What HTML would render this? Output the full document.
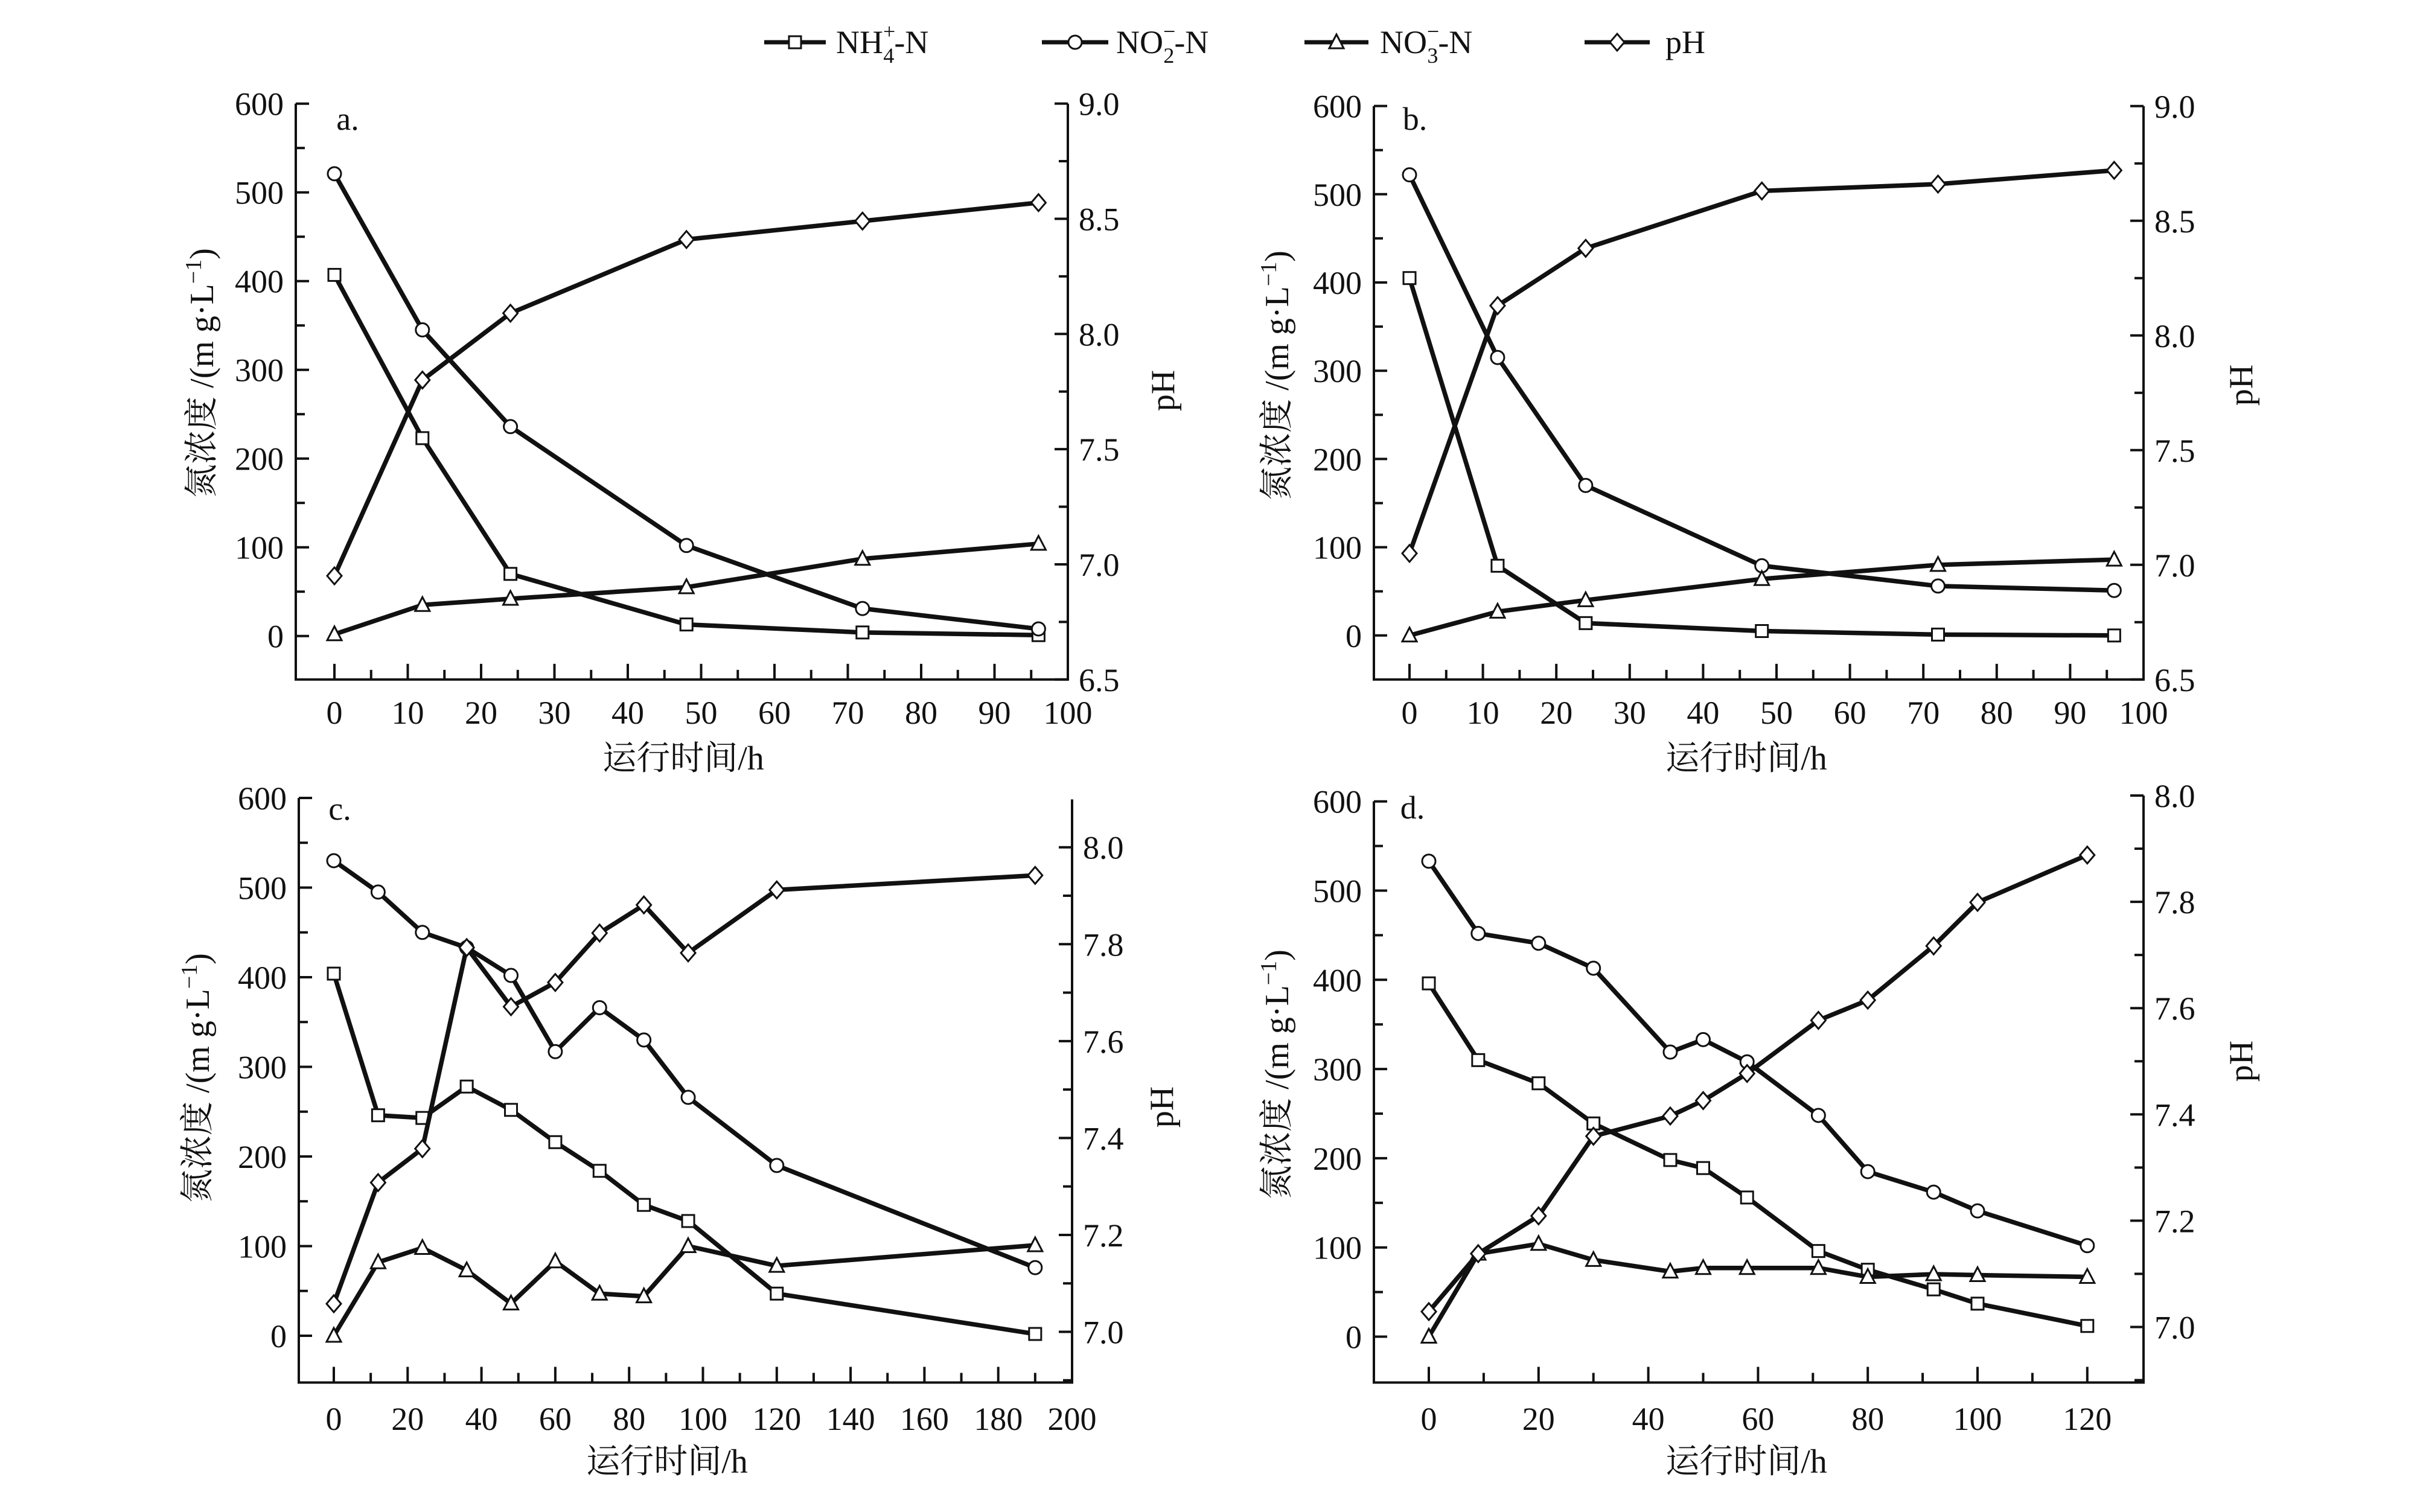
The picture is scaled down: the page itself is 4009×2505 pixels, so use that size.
<!DOCTYPE html>
<html><head><meta charset="utf-8">
<style>
html,body{margin:0;padding:0;background:#fff;}
svg{display:block;}
text{font-family:"Liberation Serif","Noto Serif CJK SC",serif;fill:#111;}
</style></head>
<body>
<svg id="chart" width="4009" height="2505" viewBox="0 0 4009 2505" xmlns="http://www.w3.org/2000/svg">
<rect width="4009" height="2505" fill="#fff"/>
<g id="legend"></g>
<g id="panels"></g>
</svg>
<script>
// ---- data ----
const aT=[0,12,24,48,72,96];
const aNH4=[407,223,70,13,4,1];
const aNO2=[521,345,236,102,31,8];
const aNO3=[2,35,42,55,87,104];
const aPH=[6.95,7.80,8.09,8.41,8.49,8.57];
const bT=[0,12,24,48,72,96];
const bNH4=[405,79,14,5,1,0];
const bNO2=[522,315,170,79,56,51];
const bNO3=[0,27,40,64,80,86];
const bPH=[7.05,8.13,8.38,8.63,8.66,8.72];
const cT=[0,12,24,36,48,60,72,84,96,120,190];
const cNH4=[404,246,243,278,252,216,184,146,128,47,2];
const cNO2=[530,495,450,433,402,317,366,330,266,190,76];
const cNO3=[0,82,98,73,36,83,47,44,100,78,101];
const cPH=[7.058,7.308,7.378,7.793,7.671,7.721,7.823,7.881,7.782,7.912,7.942];
const dT=[0,9,20,30,44,50,58,71,80,92,100,120];
const dNH4=[396,310,284,239,198,189,156,96,75,53,37,12];
const dNO2=[533,452,441,413,319,333,308,248,185,162,141,102];
const dNO3=[0,93,104,86,73,77,77,77,67,70,69,67];
const dPH=[7.029,7.138,7.209,7.359,7.397,7.426,7.477,7.577,7.615,7.717,7.799,7.888];
const abXTicks=[0,10,20,30,40,50,60,70,80,90,100];
const cXTicks=[0,20,40,60,80,100,120,140,160,180,200];
const dXTicks=[0,20,40,60,80,100,120];
const yTicks=[0,100,200,300,400,500,600];
const abPHTicks=['6.5','7.0','7.5','8.0','8.5','9.0'];
const cdPHTicks=['7.0','7.2','7.4','7.6','7.8','8.0'];

const NS='http://www.w3.org/2000/svg';
function mk(tag,attrs,parent){const e=document.createElementNS(NS,tag);for(const k in attrs)e.setAttribute(k,attrs[k]);parent.appendChild(e);return e;}

function marker(g,type,x,y){
  let e;
  const st={fill:'#fff',stroke:'#111','stroke-width':3};
  if(type==='sq'){e=mk('rect',Object.assign({x:x-10,y:y-10,width:20,height:20},st),g);}
  else if(type==='ci'){e=mk('circle',Object.assign({cx:x,cy:y,r:11},st),g);}
  else if(type==='tr'){e=mk('polygon',Object.assign({points:`${x},${y-13} ${x-12},${y+10} ${x+12},${y+10}`},st),g);}
  else {e=mk('polygon',Object.assign({points:`${x},${y-14} ${x+12},${y} ${x},${y+14} ${x-12},${y}`},st),g);}
  return e;
}

// legend
const leg=document.getElementById('legend');
const legItems=[
 {x1:1266,x2:1368,m:'sq',tx:1385,main:'NH',sub:'4',sup:'+',tail:'-N',name:'legend-nh4'},
 {x1:1726,x2:1836,m:'ci',tx:1849,main:'NO',sub:'2',sup:'−',tail:'-N',name:'legend-no2'},
 {x1:2161,x2:2267,m:'tr',tx:2286,main:'NO',sub:'3',sup:'−',tail:'-N',name:'legend-no3'},
 {x1:2625,x2:2733,m:'di',tx:2759,main:'pH',sub:'',sup:'',tail:'',name:'legend-ph'}];
legItems.forEach(it=>{
  const g=mk('g',{},leg);
  
  
  mk('line',{x1:it.x1,y1:70,x2:it.x2,y2:70,stroke:'#111','stroke-width':7},g);
  marker(g,it.m,(it.x1+it.x2)/2,70);
  const t=mk('text',{x:it.tx,y:88,'font-size':54},g);
  t.textContent=it.main;
  if(it.sub){
    const s1=mk('tspan',{'font-size':36,dy:-24},t);s1.textContent=it.sup;
    const s2=mk('tspan',{'font-size':36,dx:-20,dy:40},t);s2.textContent=it.sub;
    const s3=mk('tspan',{dy:-16},t);s3.textContent=it.tail;
  }
});

const panels=[
 {id:'a',T:aT,NH4:aNH4,NO2:aNO2,NO3:aNO3,PH:aPH,L:490,R:1769,x0:554,xs:12.15,xt:abXTicks,xminor:5,
  top:171.6,y0:1053.7,yp:147.0,bot:1125.8,rTop:171.6,phA:6.5,phApx:1125.8,phB:9.0,phBpx:171.6,pht:abPHTicks,phMinor:0.25,
  xlabY:1180,xtitle:[1132,1255],letter:[576,215],ylab:[333,618],phlab:[1925,647]},
 {id:'b',T:bT,NH4:bNH4,NO2:bNO2,NO3:bNO3,PH:bPH,L:2276,R:3551,x0:2335,xs:12.16,xt:abXTicks,xminor:5,
  top:175.8,y0:1052.8,yp:146.2,bot:1125.8,rTop:175.8,phA:6.5,phApx:1125.8,phB:9.0,phBpx:175.8,pht:abPHTicks,phMinor:0.25,
  xlabY:1180,xtitle:[2893,1255],letter:[2344,215],ylab:[2114,622],phlab:[3711,638]},
 {id:'c',T:cT,NH4:cNH4,NO2:cNO2,NO3:cNO3,PH:cPH,L:495,R:1776,x0:553,xs:6.115,xt:cXTicks,xminor:10,
  top:1322,y0:2213,yp:148.5,bot:2290.5,rTop:1324.4,phA:7.0,phApx:2206.5,phB:8.0,phBpx:1403.7,pht:cdPHTicks,phMinor:0.1,
  xlabY:2350,xtitle:[1105,2420],letter:[563,1358],ylab:[326,1786],phlab:[1923,1834]},
 {id:'d',T:dT,NH4:dNH4,NO2:dNO2,NO3:dNO3,PH:dPH,L:2276,R:3551,x0:2367,xs:9.09,xt:dXTicks,xminor:10,
  top:1327.6,y0:2214.5,yp:147.8,bot:2290.5,rTop:1318,phA:7.0,phApx:2198.5,phB:8.0,phBpx:1318,pht:cdPHTicks,phMinor:0.1,
  xlabY:2350,xtitle:[2893,2420],letter:[2340,1356],ylab:[2114,1780],phlab:[3711,1758]}
];

const root=document.getElementById('panels');
panels.forEach(p=>{
  const g=mk('g',{},root);
  
  
  const X=t=>p.x0+t*p.xs;
  const Y=v=>p.y0-v*p.yp/100;
  const phScale=(p.phBpx-p.phApx)/(p.phB-p.phA);
  const YP=v=>p.phApx+(v-p.phA)*phScale;
  const phBottom=p.phA+(p.bot-p.phApx)/phScale;
  const phTop=p.phA+(p.rTop-p.phApx)/phScale;
  const ax=mk('g',{stroke:'#111','stroke-width':4,fill:'none'},g);
  
  
  mk('line',{x1:p.L,y1:p.top,x2:p.L,y2:p.bot},ax);
  mk('line',{x1:p.R,y1:p.rTop,x2:p.R,y2:p.bot},ax);
  mk('line',{x1:p.L-2,y1:p.bot,x2:p.R+2,y2:p.bot},ax);
  for(let v=0;v<=600;v+=50){
    const maj=v%100===0;
    mk('line',{x1:p.L,y1:Y(v),x2:p.L+(maj?22:15),y2:Y(v)},ax);
  }
  yTicks.forEach(v=>{
    const t=mk('text',{x:p.L-20,y:Y(v)+19,'font-size':54,'text-anchor':'end'},g);
    
    
    t.textContent=v;
  });
  const minorN=Math.round((phTop-phBottom)/p.phMinor)+2;
  const startM=Math.ceil((phBottom-1e-6)/p.phMinor)*p.phMinor;
  for(let i=0;i<minorN;i++){
    const v=startM+i*p.phMinor;
    if(v>phTop+1e-6)break;
    const isMaj=p.pht.some(s=>Math.abs(parseFloat(s)-v)<1e-6);
    mk('line',{x1:p.R,y1:YP(v),x2:p.R-(isMaj?22:15),y2:YP(v)},ax);
  }
  p.pht.forEach(s=>{
    const t=mk('text',{x:p.R+18,y:YP(parseFloat(s))+19,'font-size':54},g);
    
    
    t.textContent=s;
  });
  const xmax=p.xt[p.xt.length-1];
  for(let v=0;v<=xmax+1e-6;v+=p.xminor){
    const maj=p.xt.includes(v);
    mk('line',{x1:X(v),y1:p.bot,x2:X(v),y2:p.bot-(maj?26:16)},ax);
  }
  p.xt.forEach(v=>{
    const t=mk('text',{x:X(v),y:p.xlabY+19,'font-size':54,'text-anchor':'middle'},g);
    
    
    t.textContent=v;
  });
  const xt=mk('text',{x:p.xtitle[0],y:p.xtitle[1]+20,'font-size':56,'text-anchor':'middle'},g);
  
  
  xt.textContent='运行时间/h';
  const yl=mk('text',{x:0,y:0,'font-size':56,'text-anchor':'middle',transform:`translate(${p.ylab[0]+20},${p.ylab[1]}) rotate(-90)`},g);
  
  
  yl.textContent='氮浓度 /(m g·L';
  const ys=mk('tspan',{'font-size':38,dy:-20},yl);ys.textContent='−1';
  const ye=mk('tspan',{dy:20},yl);ye.textContent=')';
  const pl=mk('text',{x:0,y:0,'font-size':56,'text-anchor':'middle',transform:`translate(${p.phlab[0]+20},${p.phlab[1]}) rotate(-90)`},g);
  
  
  pl.textContent='pH';
  const lt=mk('text',{x:p.letter[0],y:p.letter[1],'font-size':54,'text-anchor':'middle'},g);
  
  
  lt.textContent=p.id+'.';
  const series=[
    {vals:p.NH4,m:'sq',f:Y,n:'nh4'},
    {vals:p.NO2,m:'ci',f:Y,n:'no2'},
    {vals:p.NO3,m:'tr',f:Y,n:'no3'},
    {vals:p.PH,m:'di',f:YP,n:'ph'}];
  series.forEach(s=>{
    const sg=mk('g',{},g);
    
    
    const pts=p.T.map((t,i)=>X(t)+','+s.f(s.vals[i])).join(' ');
    mk('polyline',{points:pts,fill:'none',stroke:'#111','stroke-width':7.5,'stroke-linejoin':'round'},sg);
    p.T.forEach((t,i)=>{
      const e=marker(sg,s.m,X(t),s.f(s.vals[i]));
      
      
    });
  });
});
</script>
</body></html>
